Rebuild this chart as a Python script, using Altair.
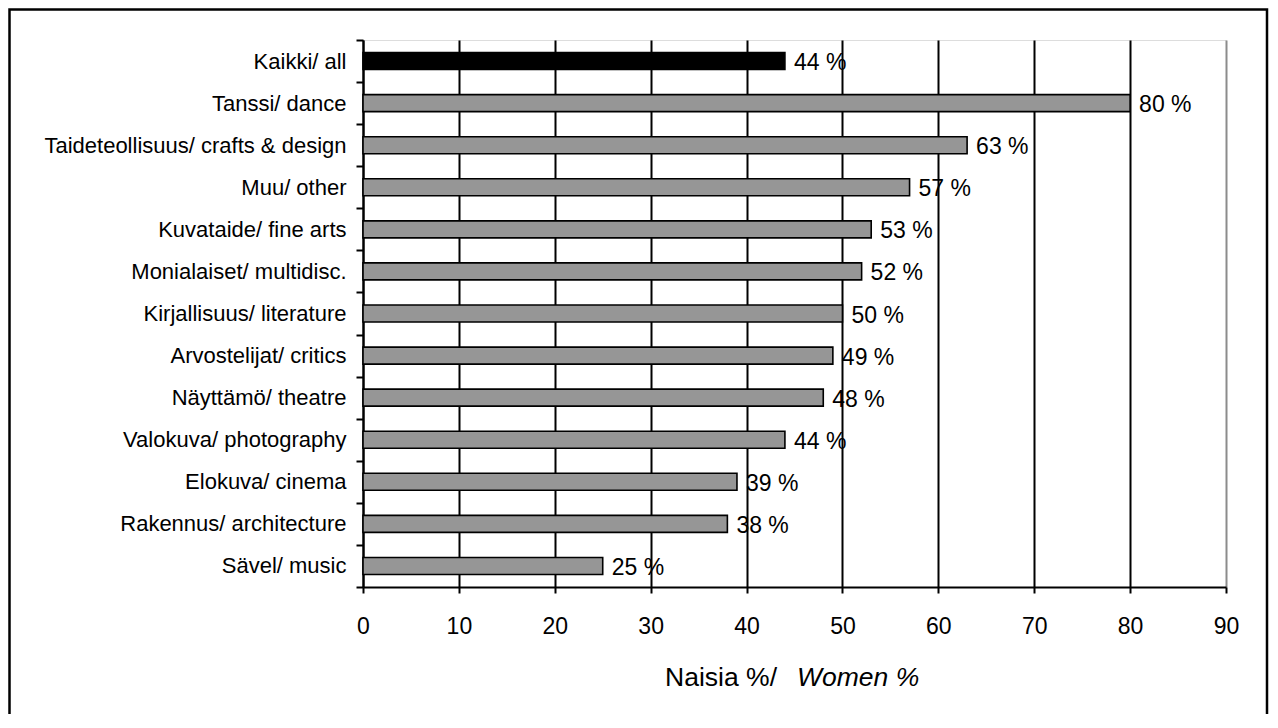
import altair as alt
import pandas as pd

categories = ["Kaikki/ all", "Tanssi/ dance", "Taideteollisuus/ crafts & design",
              "Muu/ other", "Kuvataide/ fine arts", "Monialaiset/ multidisc.",
              "Kirjallisuus/ literature", "Arvostelijat/ critics", "Näyttämö/ theatre",
              "Valokuva/ photography", "Elokuva/ cinema", "Rakennus/ architecture",
              "Sävel/ music"]
values = [44, 80, 63, 57, 53, 52, 50, 49, 48, 44, 39, 38, 25]
kinds = ["all"] + ["field"] * 12
x_ticks = [0, 10, 20, 30, 40, 50, 60, 70, 80, 90]

df = pd.DataFrame({"cat": categories, "v": values, "kind": kinds})
df["label"] = [f"{v} %" for v in values]

W, H = 863, 547
PL, PT = 355, 32
SVG_W, SVG_H = 1261, 706
FONT = "Liberation Sans"

yenc = alt.Y("cat:N", sort=categories,
             scale=alt.Scale(paddingInner=0, paddingOuter=0),
             axis=alt.Axis(title=None, tickBand="extent", tickSize=7, tickWidth=2,
                           tickColor="black", domainColor="black", domainWidth=2,
                           labelPadding=10, labelFontSize=22, labelFont=FONT,
                           labelColor="black", labelLimit=0, grid=False))
xenc = alt.X("v:Q", scale=alt.Scale(domain=[0, 90], nice=False),
             axis=alt.Axis(title=None, values=x_ticks, grid=True,
                           gridColor={"condition": {"test": "datum.value === 90", "value": "#8c8c8c"},
                                      "value": "black"},
                           gridWidth=2, tickSize=6, tickWidth=2, tickColor="black",
                           domainColor="black", domainWidth=2, labelFlush=False,
                           labelPadding=22, labelFontSize=23, labelFont=FONT,
                           labelColor="black"))

base = alt.Chart(df)
bars = base.mark_bar(size=17, stroke="black", strokeWidth=1.6).encode(
    y=yenc, x=xenc,
    color=alt.Color("kind:N", scale=alt.Scale(domain=["all", "field"], range=["black", "#969696"]),
                    legend=None))
labels = base.mark_text(align="left", baseline="middle", dx=9, dy=2, fontSize=23,
                        font=FONT, color="black").encode(y=yenc, x=xenc, text="label:N")

t1 = alt.Chart(pd.DataFrame({"t": ["Naisia %/"]})).mark_text(
    align="right", baseline="middle", fontSize=26.5, font=FONT, color="black").encode(
    x=alt.value(414), y=alt.value(638), text="t:N")
t2 = alt.Chart(pd.DataFrame({"t": ["Women %"]})).mark_text(
    align="left", baseline="middle", fontSize=26.5, font=FONT, fontStyle="italic", color="black").encode(
    x=alt.value(434), y=alt.value(638), text="t:N")

frame = alt.Chart(pd.DataFrame({"a": [0]})).mark_rect(
    fillOpacity=0, stroke="black", strokeWidth=2.5).encode(
    x=alt.value(-PL + 1.5), x2=alt.value(SVG_W - PL - 2),
    y=alt.value(-PT + 1.5), y2=alt.value(SVG_H - PT + 20))

chart = alt.layer(frame, bars, labels, t1, t2).properties(
    width=W, height=H,
    autosize=alt.AutoSizeParams(type="none"),
    padding={"left": PL, "top": PT, "right": SVG_W - PL - W, "bottom": SVG_H - PT - H},
).configure_view(stroke="#8c8c8c", strokeWidth=2).configure(font=FONT)

chart.save("out.html", embed_options={"renderer": "svg", "actions": False})
